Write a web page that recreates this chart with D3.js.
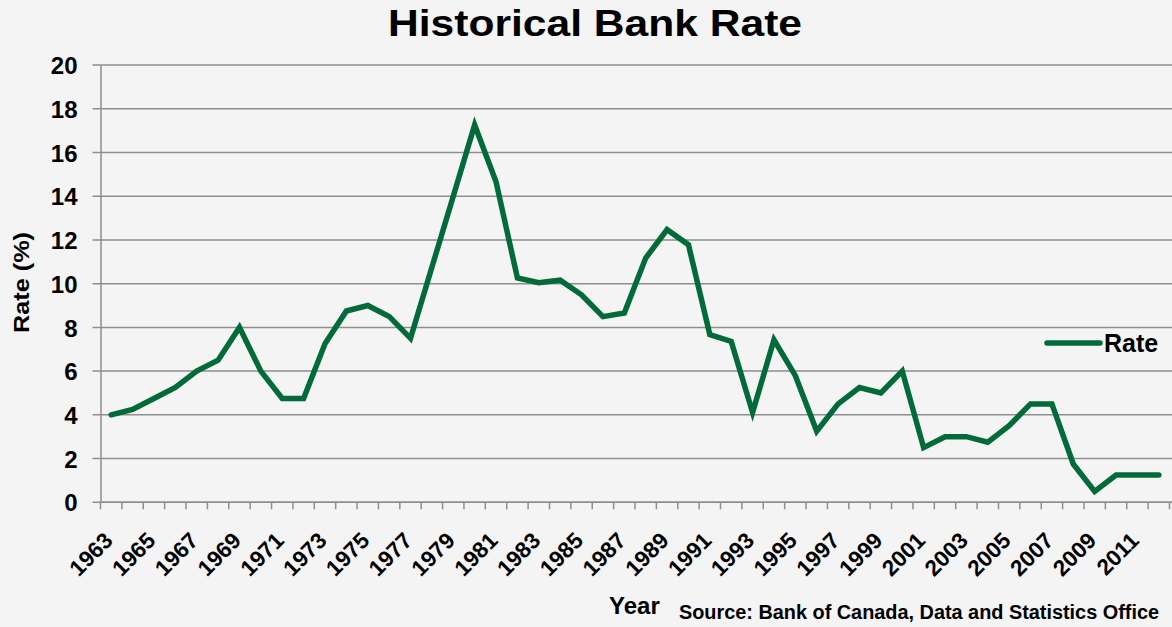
<!DOCTYPE html>
<html><head><meta charset="utf-8">
<script src="https://cdn.jsdelivr.net/npm/d3@7"></script>
<style>
html,body{margin:0;padding:0;background:#f4f4f4;}
svg{display:block;font-family:"Liberation Sans",Arial,sans-serif;font-weight:bold;}
</style></head>
<body>
<svg id="chart" width="1172" height="627"></svg>
<script>
const years = d3.range(1963, 2013);
const rates = [4.0, 4.25, 4.75, 5.25, 6.0, 6.5, 8.0, 6.0, 4.75, 4.75,
  7.25, 8.75, 9.0, 8.5, 7.5, 10.75, 14.0, 17.26, 14.66, 10.26,
  10.04, 10.16, 9.49, 8.49, 8.66, 11.17, 12.47, 11.78, 7.67, 7.36,
  4.11, 7.43, 5.79, 3.25, 4.50, 5.25, 5.0, 6.0, 2.5, 3.0,
  3.0, 2.75, 3.5, 4.5, 4.5, 1.75, 0.5, 1.25, 1.25, 1.25];
const yTicks = [0, 2, 4, 6, 8, 10, 12, 14, 16, 18, 20];
const xLabelYears = years.filter((yr, i) => i % 2 === 0);
const seriesName = "Rate";

(function () {
const svg = d3.select("#chart");
const W = 1172, H = 627;
const mLeft = 100.5, mRight = 1169.5, mTop = 65, mBottom = 502.3;

svg.append("rect").attr("width", W).attr("height", H).attr("fill", "#f4f4f4");

const x = d3.scaleBand().domain(years).range([mLeft, mRight]).padding(0);
const y = d3.scaleLinear().domain([0, 20]).range([mBottom, mTop]);

// gridlines
svg.append("g").selectAll("line").data(yTicks).join("line")
  .attr("x1", mLeft - 8).attr("x2", W)
  .attr("y1", d => y(d)).attr("y2", d => y(d))
  .attr("stroke", "#8e8e8e").attr("stroke-width", 1.5);

// y axis
const yAxis = d3.axisLeft(y).tickValues(yTicks).tickSize(0).tickPadding(0).tickFormat(d3.format("d"));
const gy = svg.append("g").attr("transform", `translate(${mLeft},0)`).call(yAxis);
gy.select(".domain").attr("stroke", "#8e8e8e").attr("stroke-width", 1.5);
gy.selectAll("text").attr("x", -23).attr("font-size", 24).attr("font-weight", "bold")
  .attr("fill", "#000").attr("font-family", "Liberation Sans, Arial, sans-serif").attr("dy", "0.36em");

// x axis ticks at category boundaries
const bounds = years.map(d => x(d)).concat([mRight]);
svg.append("g").selectAll("line").data(bounds).join("line")
  .attr("x1", d => d).attr("x2", d => d)
  .attr("y1", mBottom).attr("y2", mBottom + 7)
  .attr("stroke", "#8e8e8e").attr("stroke-width", 1.5);
svg.append("line").attr("x1", mLeft).attr("x2", W).attr("y1", mBottom).attr("y2", mBottom)
  .attr("stroke", "#8e8e8e").attr("stroke-width", 1.5);

// x labels
svg.append("g").selectAll("text").data(xLabelYears).join("text")
  .attr("transform", d => `translate(${x(d) + x.bandwidth() / 2 + 3},542) rotate(-45)`)
  .attr("text-anchor", "end").attr("font-size", 22.5).attr("fill", "#000")
  .text(d => d);

// line
const line = d3.line().x((d, i) => x(years[i]) + x.bandwidth() / 2).y(d => y(d));
svg.append("path").datum(rates).attr("d", line)
  .attr("fill", "none").attr("stroke", "#036b3a").attr("stroke-width", 5.5)
  .attr("stroke-linejoin", "miter").attr("stroke-linecap", "round");

// title
svg.append("text").attr("x", 388).attr("y", 36).attr("font-size", 37)
  .attr("textLength", 414).attr("lengthAdjust", "spacingAndGlyphs")
  .attr("fill", "#000").text("Historical Bank Rate");

// y title
svg.append("text").attr("transform", "translate(29,282.5) rotate(-90)")
  .attr("text-anchor", "middle").attr("font-size", 22)
  .attr("textLength", 101).attr("lengthAdjust", "spacingAndGlyphs")
  .attr("fill", "#000").text("Rate (%)");

// x title
svg.append("text").attr("x", 609).attr("y", 614).attr("font-size", 24).attr("fill", "#000").text("Year");

// source
svg.append("text").attr("x", 679).attr("y", 619).attr("font-size", 20)
  .attr("textLength", 480).attr("lengthAdjust", "spacingAndGlyphs").attr("fill", "#000")
  .text("Source: Bank of Canada, Data and Statistics Office");

// legend
svg.append("line").attr("x1", 1047).attr("x2", 1100).attr("y1", 343).attr("y2", 343)
  .attr("stroke", "#036b3a").attr("stroke-width", 5.5).attr("stroke-linecap", "round");
svg.append("text").attr("x", 1104).attr("y", 352).attr("font-size", 25).attr("fill", "#000").text(seriesName);
})();
</script>
</body></html>
